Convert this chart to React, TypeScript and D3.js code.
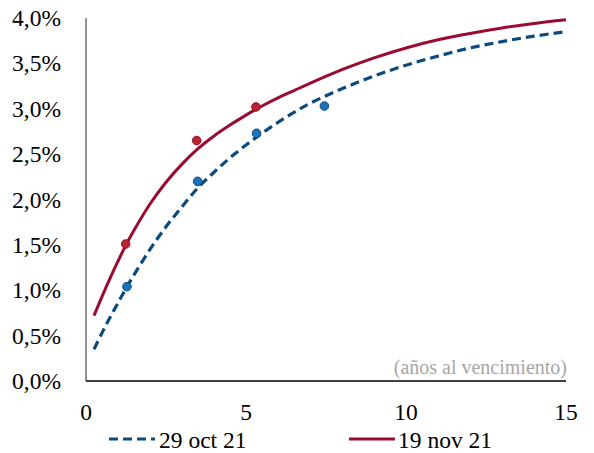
import React from "react";
import * as d3 from "d3";

const curveX = [0.25, 0.5, 0.75, 1, 1.25, 1.5, 2, 2.5, 3, 3.5, 4, 4.5, 5, 5.5, 6, 6.5, 7, 8, 9, 10, 11, 12, 13, 14, 15];
const octCurve = [0.35, 0.53, 0.7, 0.86, 1.02, 1.17, 1.45, 1.7, 1.92, 2.13, 2.3, 2.46, 2.6, 2.73, 2.85, 2.96, 3.06, 3.22, 3.36, 3.48, 3.58, 3.67, 3.74, 3.8, 3.85];
const novCurve = [0.72, 0.93, 1.13, 1.32, 1.5, 1.66, 1.95, 2.19, 2.39, 2.56, 2.7, 2.82, 2.93, 3.03, 3.12, 3.2, 3.28, 3.43, 3.56, 3.67, 3.76, 3.83, 3.89, 3.94, 3.98];

const octPointsX = [1.28, 3.49, 5.33, 7.45];
const octPointsY = [1.04, 2.2, 2.73, 3.03];
const novPointsX = [1.24, 3.46, 5.31];
const novPointsY = [1.51, 2.65, 3.02];

const yTicks = [0, 0.5, 1, 1.5, 2, 2.5, 3, 3.5, 4];
const xTicks = [0, 5, 10, 15];
const seriesNames = ["29 oct 21", "19 nov 21"];
const axisNote = "(años al vencimiento)";

const BLUE = "#0C4A7C";
const RED = "#9B0A2F";
const FONT = "'Liberation Serif', 'Times New Roman', serif";

export default function App() {
  const W = 594, H = 453;
  const x = d3.scaleLinear().domain([0, 15]).range([86, 566]);
  const y = d3.scaleLinear().domain([0, 4]).range([381, 18]);
  const line = d3.line<number>().x((_, i) => x(curveX[i])).y((d) => y(d)).curve(d3.curveCatmullRom);
  const fmt = (v: number) => v.toFixed(1).replace(".", ",") + "%";
  const ts = { fontFamily: FONT };
  return (
    <svg width={W} height={H} style={{ position: "absolute", left: 0, top: 0, background: "#fff" }}>
      {yTicks.map((t) => (
        <text key={t} x={61} y={y(t) + 8} textAnchor="end" style={ts} fontSize={23.5} fill="#000">
          {fmt(t)}
        </text>
      ))}
      {xTicks.map((t) => (
        <text key={t} x={x(t)} y={420} textAnchor="middle" style={ts} fontSize={23.5} fill="#000">
          {t}
        </text>
      ))}
      <line x1={x(0)} x2={x(0)} y1={y(4)} y2={y(0)} stroke="#595959" strokeWidth={1.3} />
      <line x1={x(0)} x2={x(15)} y1={y(0)} y2={y(0)} stroke="#000" strokeWidth={1.3} />
      <text x={567} y={374} textAnchor="end" style={ts} fontSize={20} fill="#A6A6A6">
        {axisNote}
      </text>
      <path d={line(octCurve) || ""} fill="none" stroke={BLUE} strokeWidth={3.2} strokeDasharray="9,5" />
      <path d={line(novCurve) || ""} fill="none" stroke={RED} strokeWidth={3} />
      {octPointsX.map((px, i) => (
        <circle key={"o" + i} cx={x(px)} cy={y(octPointsY[i])} r={4.3} fill="#1A73BD" stroke={BLUE} strokeWidth={1} />
      ))}
      {novPointsX.map((px, i) => (
        <circle key={"n" + i} cx={x(px)} cy={y(novPointsY[i])} r={4.3} fill="#B5272B" stroke={RED} strokeWidth={1} />
      ))}
      <line x1={109} x2={155} y1={439} y2={439} stroke={BLUE} strokeWidth={3.2} strokeDasharray="9,5" />
      <text x={159} y={448} style={ts} fontSize={23.5} fill="#000">{seriesNames[0]}</text>
      <line x1={349} x2={395} y1={439} y2={439} stroke={RED} strokeWidth={3} />
      <text x={398} y={448} style={ts} fontSize={23.5} fill="#000">{seriesNames[1]}</text>
    </svg>
  );
}
